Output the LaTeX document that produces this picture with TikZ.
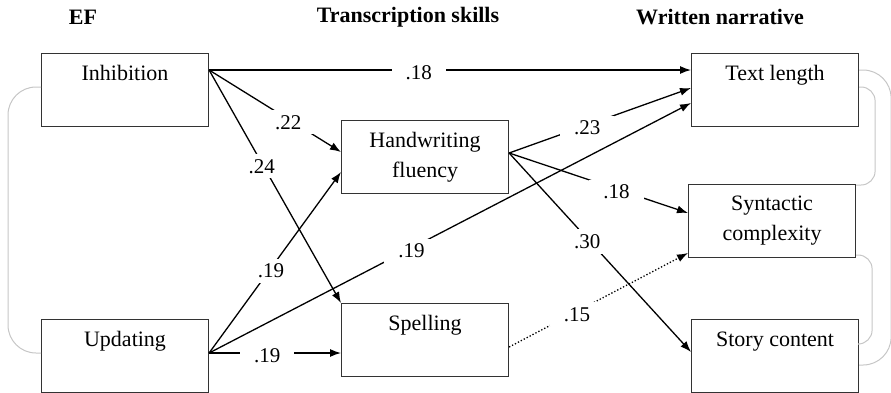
\documentclass[tikz,border=0pt]{standalone}
\usepackage{fontspec}
\setmainfont{Liberation Serif}
\usetikzlibrary{arrows.meta}

\begin{document}
\begin{tikzpicture}[x=1pt,y=-1pt,
  box/.style={draw=black!80,line width=1.1pt,minimum width=167pt,minimum height=73pt,inner ysep=11pt,align=center,anchor=north west,font=\fontsize{22}{30}\selectfont},
  onebox/.style={box,text height=16pt,text depth=35pt},
  head/.style={font=\bfseries\fontsize{22}{26}\selectfont},
  arr/.style={-{Latex[length=11pt,width=8pt]},line width=1.3pt},
  lbl/.style={fill=white,inner xsep=14pt,inner ysep=5pt,yshift=-3pt,font=\fontsize{21}{25}\selectfont},
  link/.style={gray!45,line width=1pt,rounded corners=#1}]
\useasboundingbox (0,0) rectangle (891,392);
\node[head] (hef) at (83,17) {EF};
\node[head] (hts) at (408,17) {Transcription skills};
\node[head] (hwn) at (720,17) {Written narrative};
\node[onebox] (inhib) at (41,53) {Inhibition};
\node[onebox] (upd) at (41,319) {Updating};
\node[box] (hwf) at (341,120) {Handwriting\\fluency};
\node[onebox] (spell) at (341,303) {Spelling};
\node[onebox] (tlen) at (691,53) {Text length};
\node[box] (synt) at (688,184) {Syntactic\\complexity};
\node[onebox] (story) at (691,319) {Story content};
\draw[link=28pt] ([yshift=-34pt]inhib.north west) -- ++(-33,0) |- ([yshift=-34pt]upd.north west);
\draw[link=28pt] ([yshift=-17pt]tlen.north east) -- ++(32,0) |- ([yshift=-46pt]story.north east);
\draw[link=14pt] ([yshift=-34pt]tlen.north east) -- ++(16,0) |- ([yshift=-1pt]synt.north east);
\draw[link=14pt] ([yshift=-71pt]synt.north east) -- ++(16,0) |- ([yshift=-25pt]story.north east);
\draw[arr] ([yshift=-17pt]inhib.north east) -- node[lbl,pos=.435]{.18} ([yshift=-17pt]tlen.north west);
\draw[arr] ([yshift=-17pt]inhib.north east) -- node[lbl,pos=.6]{.22} ([yshift=-32pt]hwf.north west);
\draw[arr] ([yshift=-17pt]inhib.north east) -- node[lbl,pos=.4]{.24} (spell.north west);
\draw[arr] ([yshift=-34pt]upd.north east) -- node[lbl,pos=.47]{.19} ([yshift=-52pt]hwf.north west);
\draw[arr] ([yshift=-34pt]upd.north east) -- node[lbl,pos=.42]{.19} ([yshift=-50pt]tlen.north west);
\draw[arr] ([yshift=-34pt]upd.north east) -- node[lbl,pos=.44]{.19} ([yshift=-50pt]spell.north west);
\draw[arr] ([yshift=-33pt]hwf.north east) -- node[lbl,pos=.43]{.23} ([yshift=-35pt]tlen.north west);
\draw[arr] ([yshift=-33pt]hwf.north east) -- node[lbl,pos=.6]{.18} ([yshift=-29pt]synt.north west);
\draw[arr] ([yshift=-33pt]hwf.north east) -- node[lbl,pos=.43]{.30} ([yshift=-33pt]story.north west);
\draw[arr,dotted] ([yshift=-44pt]spell.north east) -- node[lbl,pos=.38]{.15} ([yshift=-69pt]synt.north west);
\end{tikzpicture}
\end{document}
